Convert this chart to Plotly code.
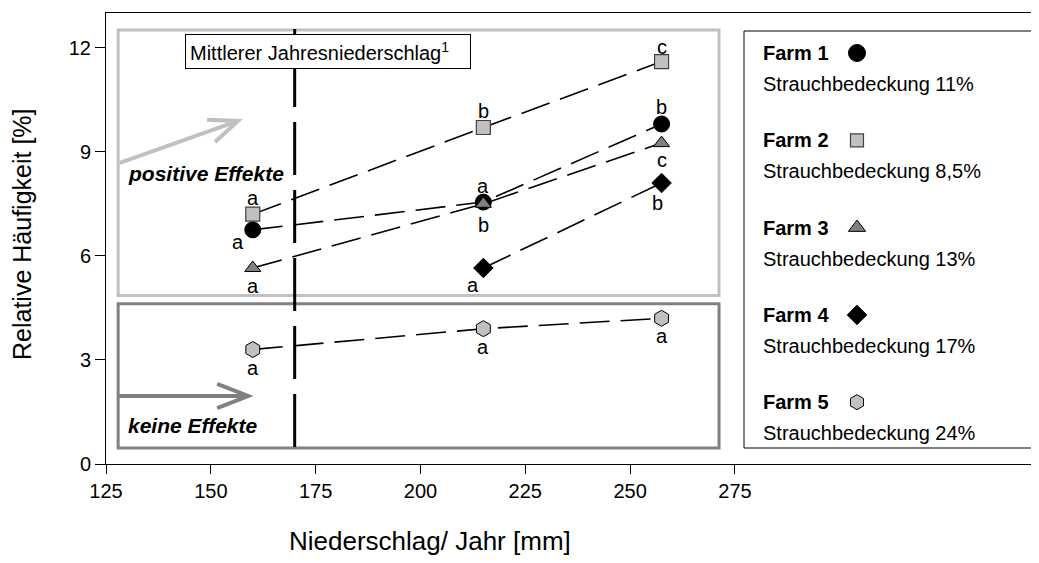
import plotly.graph_objects as go

# ---------------- data ----------------
precip = [160, 215, 257.5]
farm_names = ["Farm 1", "Farm 2", "Farm 3", "Farm 4", "Farm 5"]
farm_cover = ["Strauchbedeckung 11%", "Strauchbedeckung 8,5%", "Strauchbedeckung 13%",
              "Strauchbedeckung 17%", "Strauchbedeckung 24%"]
farm1 = [6.75, 7.55, 9.8]
farm2 = [7.2, 9.7, 11.6]
farm3 = [5.65, 7.5, 9.25]
farm4 = [None, 5.65, 8.1]
farm5 = [3.3, 3.9, 4.2]
letters1 = ["a", "a", "b"]
letters2 = ["a", "b", "c"]
letters3 = ["a", "b", "c"]
letters4 = [None, "a", "b"]
letters5 = ["a", "a", "a"]
mean_precip = 170
x_ticks = [125, 150, 175, 200, 225, 250, 275]
y_ticks = [0, 3, 6, 9, 12]

# ---------------- styles ----------------
FONT = "Liberation Sans, Arial, sans-serif"
BODY = 8                      # browser default body margin
W, H = 1039 - BODY, 563 - BODY
ML, MR, MT, MB = 106 - BODY, 0, 13 - BODY, 99
PW, PH = W - ML - MR, H - MT - MB
X0, XSCALE = 125, 4.193            # px per mm
XMAX = X0 + PW / XSCALE
YMAX = 13

series = [farm1, farm2, farm3, farm4, farm5]
letters = [letters1, letters2, letters3, letters4, letters5]
markers = [
    dict(symbol="circle", size=16, color="black", line=dict(color="black", width=1)),
    dict(symbol="square", size=14, color="#c0c0c0", line=dict(color="#404040", width=1.2)),
    dict(symbol="triangle-up", size=14, color="#808080", line=dict(color="black", width=1)),
    dict(symbol="diamond", size=15, color="black", line=dict(color="black", width=1)),
    dict(symbol="hexagon", size=16, color="#c0c0c0", line=dict(color="black", width=1)),
]
legend_sizes = [17, 13, 15, 15, 15]
# label offsets (dx, dy) in px, dy positive = down
label_off = [
    [(-15, 12), (0, -16), (0, -17)],
    [(0, -16), (0, -16), (0, -15)],
    [(0, 18), (0, 21), (0, 17)],
    [None, (-10, 17), (-4, 20)],
    [(0, 18), (0, 18), (0, 18)],
]

fig = go.Figure()

for i, ys in enumerate(series):
    fig.add_trace(go.Scatter(
        x=precip, y=ys, mode="lines+markers",
        line=dict(color="black", width=1.6, dash="30px,11px"),
        marker=markers[i], showlegend=False, connectgaps=False,
    ))

annotations = []
for i, ys in enumerate(series):
    for j, (xv, yv) in enumerate(zip(precip, ys)):
        lab = letters[i][j]
        if lab is None or yv is None:
            continue
        dx, dy = label_off[i][j]
        annotations.append(dict(
            x=xv, y=yv, xref="x", yref="y", text=lab, showarrow=False,
            xshift=dx, yshift=-dy, font=dict(family=FONT, size=20, color="black"),
        ))

# effect rectangles
rect_x0, rect_x1 = 127.9, 271.2
shapes = [
    dict(type="rect", xref="x", yref="y", x0=rect_x0, x1=rect_x1, y0=4.86, y1=12.51,
         line=dict(color="#c0c0c0", width=3), layer="below"),
    dict(type="rect", xref="x", yref="y", x0=rect_x0, x1=rect_x1, y0=0.46, y1=4.62,
         line=dict(color="#808080", width=3), layer="below"),
    # mean annual precipitation
    dict(type="line", xref="x", yref="y", x0=mean_precip, x1=mean_precip, y0=0.49, y1=12.54,
         line=dict(color="black", width=3, dash="53px,15px"), layer="below"),
    # arrows
    dict(type="path", xref="x", yref="y",
         path="M128.3,8.68 L156.5,9.89 M149.1,9.92 L156.5,9.89 L151.0,9.28",
         line=dict(color="#c0c0c0", width=4)),
    dict(type="path", xref="x", yref="y",
         path="M127.9,1.96 L158.9,1.96 M151.5,2.31 L158.9,1.96 L151.5,1.61",
         line=dict(color="#808080", width=4)),
    # legend box
    dict(type="rect", xref="x2", yref="y2", x0=638, x1=929, y0=18, y1=435,
         line=dict(color="black", width=1), layer="below"),
]

annotations += [
    dict(x=129.8, y=8.36, xref="x", yref="y", xanchor="left", showarrow=False,
         text="<b><i>positive Effekte</i></b>", font=dict(family=FONT, size=21, color="black")),
    dict(x=129.8, y=1.12, xref="x", yref="y", xanchor="left", showarrow=False,
         text="<b><i>keine Effekte</i></b>", font=dict(family=FONT, size=21, color="black")),
    dict(x=143.9, y=11.9, xref="x", yref="y", xanchor="left", showarrow=False,
         text="Mittlerer Jahresniederschlag<sup>1</sup>", bgcolor="white",
         bordercolor="black", borderwidth=1, borderpad=4, width=276, align="left",
         font=dict(family=FONT, size=20, color="black")),
    # axis titles
    dict(x=(430 - 106) / PW, y=0, xref="paper", yref="paper", yanchor="middle",
         yshift=-(541 - 464), showarrow=False,
         text="Niederschlag/ Jahr [mm]", font=dict(family=FONT, size=26, color="black")),
    dict(x=0, y=(464 - 234) / PH, xref="paper", yref="paper", xanchor="center",
         xshift=-(106 - 22), showarrow=False, textangle=-90,
         text="Relative Häufigkeit [%]", font=dict(family=FONT, size=25, color="black")),
]

# legend entries (px within overlay axis)
leg_x_text, leg_x_mark = 655, 751
leg_y0, leg_dy, leg_sub = 40, 87.3, 31
for i in range(5):
    yy = leg_y0 + i * leg_dy
    annotations.append(dict(x=leg_x_text, y=yy, xref="x2", yref="y2", xanchor="left",
                            showarrow=False, text="<b>%s</b>" % farm_names[i],
                            font=dict(family=FONT, size=20, color="black")))
    annotations.append(dict(x=leg_x_text, y=yy + leg_sub, xref="x2", yref="y2", xanchor="left",
                            showarrow=False, text=farm_cover[i],
                            font=dict(family=FONT, size=20, color="black")))
    m = dict(markers[i])
    m["size"] = legend_sizes[i]
    fig.add_trace(go.Scatter(x=[leg_x_mark], y=[yy], xaxis="x2", yaxis="y2", mode="markers",
                             marker=m, showlegend=False, hoverinfo="skip"))

fig.update_layout(
    width=W, height=H, margin=dict(l=ML, r=MR, t=MT, b=MB),
    paper_bgcolor="white", plot_bgcolor="white",
    font=dict(family=FONT, size=20, color="black"),
    shapes=shapes, annotations=annotations, showlegend=False,
    xaxis=dict(range=[X0, XMAX], tickvals=x_ticks, showgrid=False, zeroline=False,
               showline=True, linecolor="black", linewidth=1, mirror=True,
               ticks="outside", ticklen=9, tickcolor="black", tickwidth=1,
               tickfont=dict(size=20, family=FONT, color="black")),
    yaxis=dict(range=[0, YMAX], tickvals=y_ticks, showgrid=False, zeroline=False,
               showline=True, linecolor="black", linewidth=1,
               ticks="outside", ticklen=10, tickcolor="black", tickwidth=1,
               tickfont=dict(size=20, family=FONT, color="black")),
    xaxis2=dict(range=[0, PW], overlaying="x", visible=False, showgrid=False, zeroline=False),
    yaxis2=dict(range=[PH, 0], overlaying="y", visible=False, showgrid=False, zeroline=False),
)

fig.write_html("out.html")
